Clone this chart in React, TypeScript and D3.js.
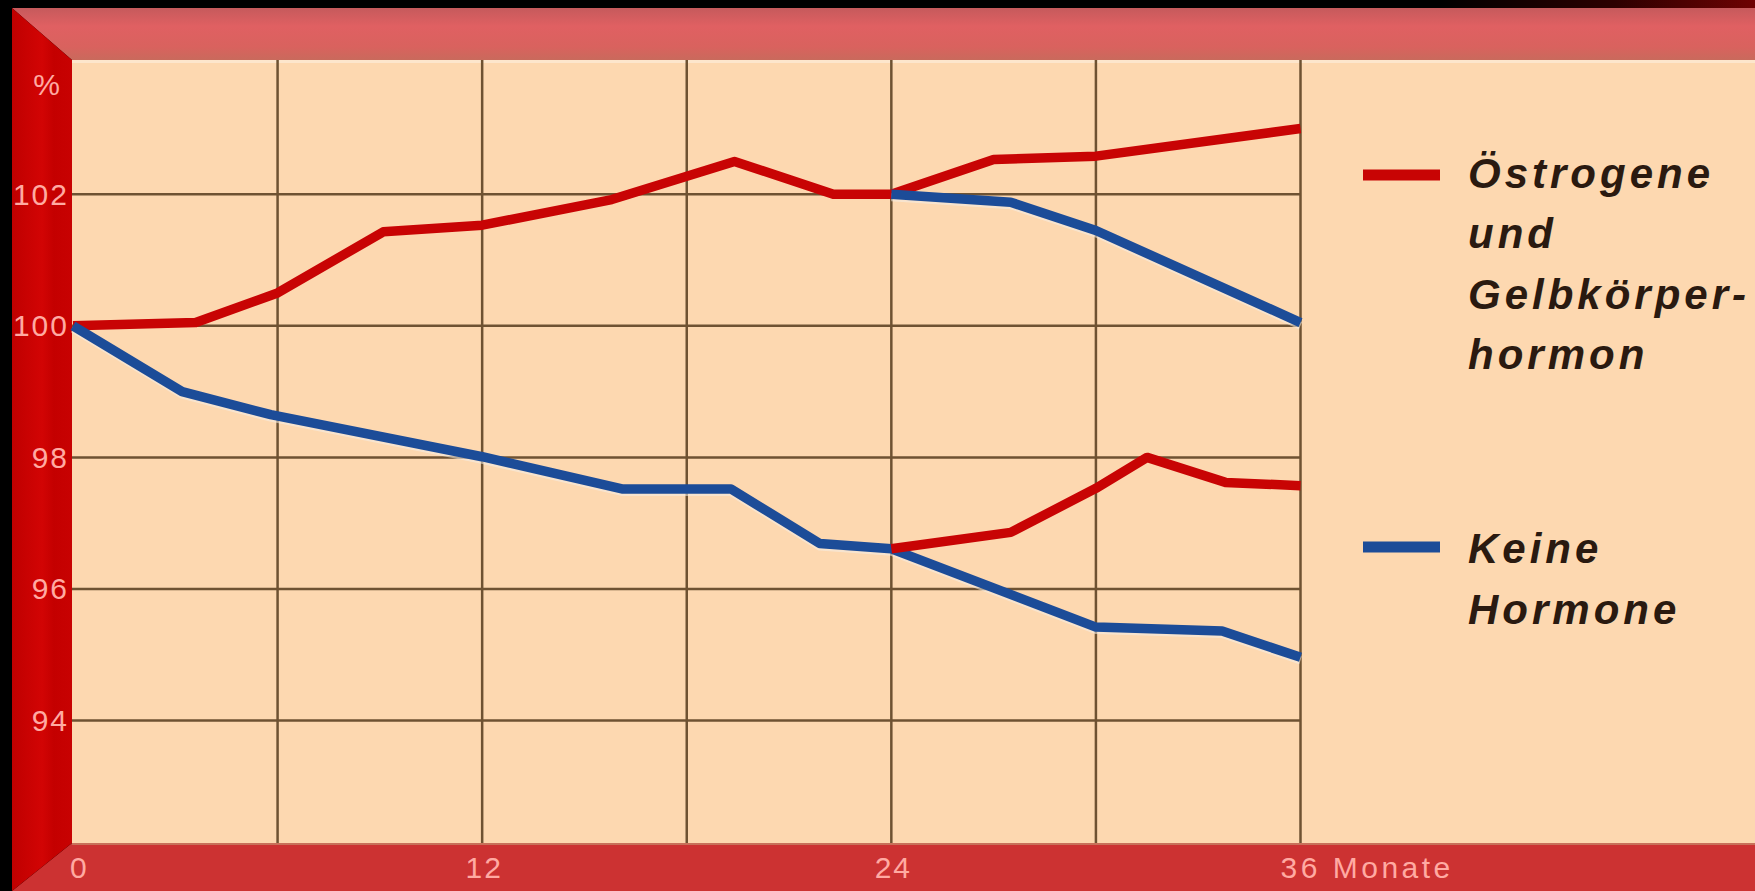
import React from "react";
import * as d3 from "d3";

// Bone density (% of starting value) over 36 months
const hormoneMonths = [0, 3.6, 6, 9.1, 12, 15.8, 19.4, 22.3, 24, 27, 30, 36];
const hormoneValues = [100, 100.05, 100.5, 101.43, 101.53, 101.92, 102.5, 102.0, 102.0, 102.53, 102.58, 103.0];

const noHormoneMonths = [0, 3.2, 5.8, 12, 16.1, 19.3, 21.9, 24, 30, 33.7, 36];
const noHormoneValues = [100, 99.0, 98.65, 98.01, 97.52, 97.52, 96.69, 96.61, 95.42, 95.36, 94.96];

// Groups that switched treatment after 24 months
const stoppedMonths = [24, 27.5, 30, 36];
const stoppedValues = [102.0, 101.88, 101.45, 100.05];

const startedMonths = [24, 27.5, 30, 31.5, 33.8, 36];
const startedValues = [96.61, 96.86, 97.53, 98.0, 97.62, 97.57];

const yTicks = [94, 96, 98, 100, 102];
const gridMonths = [6, 12, 18, 24, 30, 36];
const xTicks = [0, 12, 24, 36];
const xTickLabels = ["0", "12", "24", "36 Monate"];
const yUnit = "%";

const legendHormone = ["Östrogene", "und", "Gelbkörper-", "hormon"];
const legendNone = ["Keine", "Hormone"];

type Pt = { month: number; value: number };
const zip = (ms: number[], vs: number[]): Pt[] => ms.map((m, i) => ({ month: m, value: vs[i] }));

const W = 1755;
const H = 891;
const FRAME_L = 12;
const BAND_R = 72;
const TOP_BLACK = 8;
const TOP_BAND_B = 60;
const BOTTOM_BAND_T = 843;

const RED = "#c80404";
const BLUE = "#1c4c98";
const GRID = "#6e5232";
const LABEL = "#ffaaa2";
const CREAM = "#fdd8b0";

export default function App() {
  const x = d3.scaleLinear().domain([0, 36]).range([73, 1300.5]);
  const y = d3.scaleLinear().domain([94, 102]).range([720.5, 194.3]);
  const line = d3
    .line<Pt>()
    .x((d) => x(d.month))
    .y((d) => y(d.value));

  const redA = line(zip(hormoneMonths, hormoneValues)) || "";
  const blueA = line(zip(noHormoneMonths, noHormoneValues)) || "";
  const blueB = line(zip(stoppedMonths, stoppedValues)) || "";
  const redB = line(zip(startedMonths, startedValues)) || "";

  const tickFont = {
    fontFamily: "'Liberation Sans', Arial, sans-serif",
    fontSize: 30,
    letterSpacing: 2,
    fill: LABEL,
  } as const;

  const legendFont = {
    fontFamily: "'Liberation Sans', Arial, sans-serif",
    fontSize: 42,
    fontWeight: 700,
    fontStyle: "italic",
    letterSpacing: 4,
    fill: "#2a1a10",
  } as const;

  return (
    <svg
      width={W}
      height={H}
      style={{ position: "absolute", left: 0, top: 0, display: "block" }}
    >
      <defs>
        <linearGradient id="topBlack" x1="0" x2="1" y1="0" y2="0">
          <stop offset="0" stopColor="#000" />
          <stop offset="0.82" stopColor="#000" />
          <stop offset="0.92" stopColor="#2c0000" />
          <stop offset="1" stopColor="#6e0202" />
        </linearGradient>
        <linearGradient id="topBand" x1="0" x2="0" y1="0" y2="1">
          <stop offset="0" stopColor="#c65a5c" />
          <stop offset="0.35" stopColor="#e06062" />
          <stop offset="0.75" stopColor="#d9625e" />
          <stop offset="1" stopColor="#c96a5c" />
        </linearGradient>
        <linearGradient id="leftBand" x1="0" x2="1" y1="0" y2="0">
          <stop offset="0" stopColor="#bf0000" />
          <stop offset="0.5" stopColor="#d20404" />
          <stop offset="0.7" stopColor="#c40000" />
          <stop offset="1" stopColor="#c80202" />
        </linearGradient>
      </defs>

      {/* backdrop and frame */}
      <rect x={0} y={0} width={W} height={H} fill="#000" />
      <rect x={0} y={0} width={W} height={TOP_BLACK} fill="url(#topBlack)" />
      <rect x={BAND_R} y={TOP_BAND_B} width={W - BAND_R} height={BOTTOM_BAND_T - TOP_BAND_B} fill={CREAM} />
      <rect x={BAND_R} y={TOP_BAND_B} width={W - BAND_R} height={3} fill="#fde6cc" />
      <polygon
        points={`${FRAME_L},${TOP_BLACK} ${W},${TOP_BLACK} ${W},${TOP_BAND_B} ${BAND_R},${TOP_BAND_B}`}
        fill="url(#topBand)"
      />
      <polygon
        points={`${FRAME_L},${BOTTOM_BAND_T + 48} ${BAND_R},${BOTTOM_BAND_T} ${W},${BOTTOM_BAND_T} ${W},${H} ${FRAME_L},${H}`}
        fill="#cc3232"
      />
      <rect x={BAND_R} y={BOTTOM_BAND_T} width={W - BAND_R} height={2} fill="#c8705a" />
      <polygon
        points={`${FRAME_L},${TOP_BLACK} ${BAND_R},${TOP_BAND_B} ${BAND_R},${BOTTOM_BAND_T} ${FRAME_L},${BOTTOM_BAND_T + 48}`}
        fill="url(#leftBand)"
      />

      {/* grid */}
      {gridMonths.map((m) => (
        <line key={`v${m}`} x1={x(m)} x2={x(m)} y1={TOP_BAND_B} y2={BOTTOM_BAND_T} stroke={GRID} strokeWidth={2.5} />
      ))}
      {yTicks.map((v) => (
        <line key={`h${v}`} x1={BAND_R} x2={x(36)} y1={y(v)} y2={y(v)} stroke={GRID} strokeWidth={2.5} />
      ))}

      {/* y axis labels */}
      <text x={62} y={84} textAnchor="end" dominantBaseline="central" {...tickFont}>
        {yUnit}
      </text>
      {yTicks.map((v) => (
        <text key={`yl${v}`} x={69} y={y(v)} textAnchor="end" dominantBaseline="central" {...tickFont}>
          {v}
        </text>
      ))}

      {/* x axis labels */}
      {xTicks.map((m, i) => {
        const isFirst = i === 0;
        const isLast = i === xTicks.length - 1;
        const tx = isFirst ? x(m) - 3 : isLast ? x(m) - 20 : x(m) + 2;
        return (
          <text
            key={`xl${m}`}
            x={tx}
            y={867}
            textAnchor={isFirst || isLast ? "start" : "middle"}
            dominantBaseline="central"
            {...tickFont}
            letterSpacing={isLast ? 3.5 : 2}
          >
            {xTickLabels[i]}
          </text>
        );
      })}

      {/* series */}
      <g fill="none" strokeLinejoin="round" strokeLinecap="butt">
        <path d={redA} stroke={RED} strokeWidth={9.5} />
        <path d={blueA} stroke="#f4eee8" strokeWidth={8} opacity={0.55} transform="translate(0,3)" />
        <path d={blueA} stroke={BLUE} strokeWidth={9.5} />
        <path d={blueB} stroke="#f4eee8" strokeWidth={8} opacity={0.55} transform="translate(0,3)" />
        <path d={blueB} stroke={BLUE} strokeWidth={9.5} />
        <path d={redB} stroke={RED} strokeWidth={9.5} />
      </g>

      {/* legend */}
      <line x1={1363} x2={1440} y1={175} y2={175} stroke={RED} strokeWidth={11} />
      {legendHormone.map((t, i) => (
        <text key={`lh${i}`} x={1468} y={188 + i * 60.3} {...legendFont}>
          {t}
        </text>
      ))}
      <line x1={1363} x2={1440} y1={547} y2={547} stroke={BLUE} strokeWidth={11} />
      {legendNone.map((t, i) => (
        <text key={`ln${i}`} x={1468} y={563 + i * 61} {...legendFont}>
          {t}
        </text>
      ))}
    </svg>
  );
}
